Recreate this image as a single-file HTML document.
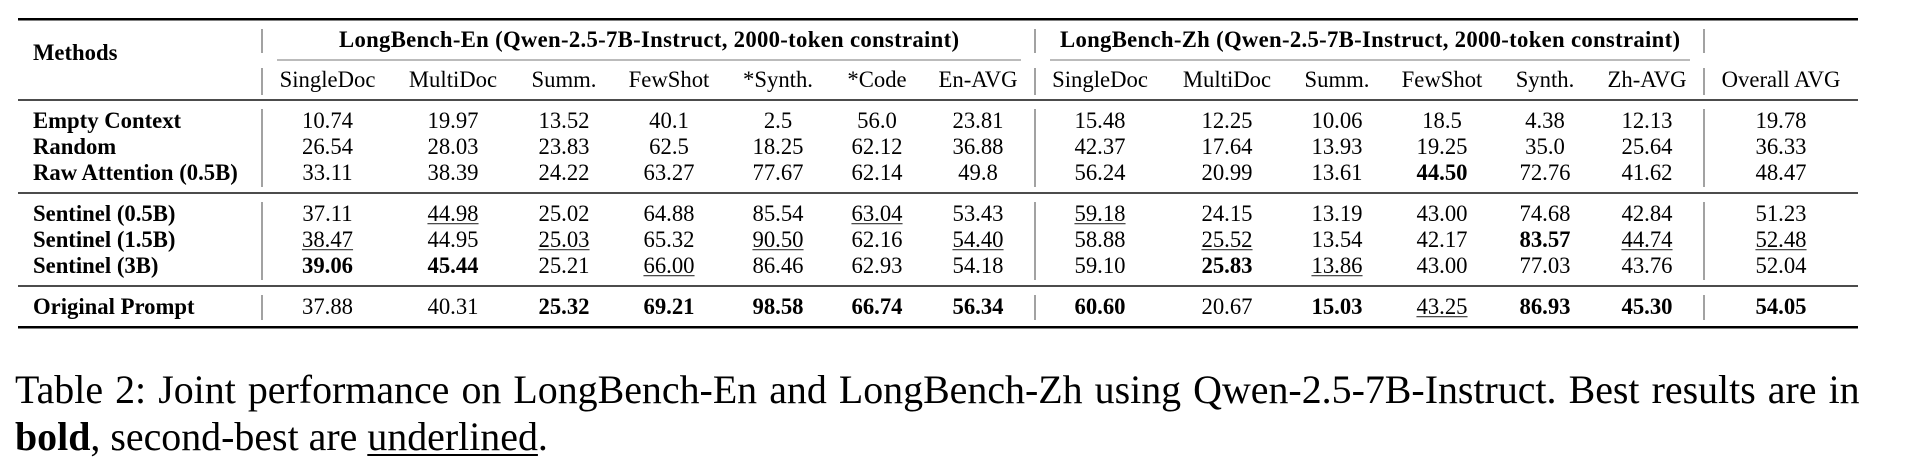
<!DOCTYPE html>
<html>
<head>
<meta charset="utf-8">
<style>
  html, body { margin:0; padding:0; background:#fff; }
  body { width:1907px; height:475px; position:relative; overflow:hidden; }
  svg { position:absolute; left:0; top:0; }
  .cap { position:absolute; left:15px; width:1880px; font-family:"Liberation Serif", "Times New Roman", serif; font-size:39.9px; line-height:47px; color:#000; white-space:nowrap; text-align:left; }
  .l1 { top:366px; word-spacing:2.1px; }
  .l2 { top:413px; }
  .u { text-decoration:underline; text-decoration-thickness:1.5px; text-underline-offset:4px; }
</style>
</head>
<body>
<svg width="1907" height="475" viewBox="0 0 1907 475" xmlns="http://www.w3.org/2000/svg" font-family="Liberation Serif, Times New Roman, serif" font-size="22.7" fill="#000">
  <!-- horizontal rules -->
  <rect x="18" y="18" width="1840" height="2.5" fill="#000"/>
  <rect x="277" y="59.5" width="744" height="1" fill="#777"/>
  <rect x="1050" y="59.5" width="640" height="1" fill="#777"/>
  <rect x="18" y="99.3" width="1840" height="1.4" fill="#000"/>
  <rect x="18" y="192.3" width="1840" height="1.4" fill="#000"/>
  <rect x="18" y="285.3" width="1840" height="1.4" fill="#000"/>
  <rect x="18" y="326" width="1840" height="2.5" fill="#000"/>

  <!-- vertical lines -->
  <g stroke="#555" stroke-width="1.1">
    <line x1="262" y1="29" x2="262" y2="53"/>
    <line x1="262" y1="68" x2="262" y2="95"/>
    <line x1="262" y1="109" x2="262" y2="187"/>
    <line x1="262" y1="202" x2="262" y2="280"/>
    <line x1="262" y1="295" x2="262" y2="320"/>
    <line x1="1035" y1="29" x2="1035" y2="53"/>
    <line x1="1035" y1="68" x2="1035" y2="95"/>
    <line x1="1035" y1="109" x2="1035" y2="187"/>
    <line x1="1035" y1="202" x2="1035" y2="280"/>
    <line x1="1035" y1="295" x2="1035" y2="320"/>
    <line x1="1704" y1="29" x2="1704" y2="53"/>
    <line x1="1704" y1="68" x2="1704" y2="95"/>
    <line x1="1704" y1="109" x2="1704" y2="187"/>
    <line x1="1704" y1="202" x2="1704" y2="280"/>
    <line x1="1704" y1="295" x2="1704" y2="320"/>
  </g>

  <!-- header -->
  <text x="33" y="60" font-weight="bold">Methods</text>
  <text x="649" y="47" font-weight="bold" text-anchor="middle" textLength="620" lengthAdjust="spacing">LongBench-En (Qwen-2.5-7B-Instruct, 2000-token constraint)</text>
  <text x="1370" y="47" font-weight="bold" text-anchor="middle" textLength="620" lengthAdjust="spacing">LongBench-Zh (Qwen-2.5-7B-Instruct, 2000-token constraint)</text>

  <g text-anchor="middle">
    <text x="327.5" y="87">SingleDoc</text>
    <text x="453" y="87">MultiDoc</text>
    <text x="564" y="87">Summ.</text>
    <text x="669" y="87">FewShot</text>
    <text x="778" y="87">*Synth.</text>
    <text x="877" y="87">*Code</text>
    <text x="978" y="87">En-AVG</text>
    <text x="1100" y="87">SingleDoc</text>
    <text x="1227" y="87">MultiDoc</text>
    <text x="1337" y="87">Summ.</text>
    <text x="1442" y="87">FewShot</text>
    <text x="1545" y="87">Synth.</text>
    <text x="1647" y="87">Zh-AVG</text>
    <text x="1781" y="87">Overall AVG</text>
  </g>

  <!-- row labels -->
  <g font-weight="bold">
    <text x="33" y="128">Empty Context</text>
    <text x="33" y="154">Random</text>
    <text x="33" y="180">Raw Attention (0.5B)</text>
    <text x="33" y="221">Sentinel (0.5B)</text>
    <text x="33" y="247">Sentinel (1.5B)</text>
    <text x="33" y="273">Sentinel (3B)</text>
    <text x="33" y="314">Original Prompt</text>
  </g>

  <g text-anchor="middle">
    <!-- Empty Context -->
    <text x="327.5" y="128">10.74</text>
    <text x="453" y="128">19.97</text>
    <text x="564" y="128">13.52</text>
    <text x="669" y="128">40.1</text>
    <text x="778" y="128">2.5</text>
    <text x="877" y="128">56.0</text>
    <text x="978" y="128">23.81</text>
    <text x="1100" y="128">15.48</text>
    <text x="1227" y="128">12.25</text>
    <text x="1337" y="128">10.06</text>
    <text x="1442" y="128">18.5</text>
    <text x="1545" y="128">4.38</text>
    <text x="1647" y="128">12.13</text>
    <text x="1781" y="128">19.78</text>

    <!-- Random -->
    <text x="327.5" y="154">26.54</text>
    <text x="453" y="154">28.03</text>
    <text x="564" y="154">23.83</text>
    <text x="669" y="154">62.5</text>
    <text x="778" y="154">18.25</text>
    <text x="877" y="154">62.12</text>
    <text x="978" y="154">36.88</text>
    <text x="1100" y="154">42.37</text>
    <text x="1227" y="154">17.64</text>
    <text x="1337" y="154">13.93</text>
    <text x="1442" y="154">19.25</text>
    <text x="1545" y="154">35.0</text>
    <text x="1647" y="154">25.64</text>
    <text x="1781" y="154">36.33</text>

    <!-- Raw Attention -->
    <text x="327.5" y="180">33.11</text>
    <text x="453" y="180">38.39</text>
    <text x="564" y="180">24.22</text>
    <text x="669" y="180">63.27</text>
    <text x="778" y="180">77.67</text>
    <text x="877" y="180">62.14</text>
    <text x="978" y="180">49.8</text>
    <text x="1100" y="180">56.24</text>
    <text x="1227" y="180">20.99</text>
    <text x="1337" y="180">13.61</text>
    <text x="1442" y="180" font-weight="bold">44.50</text>
    <text x="1545" y="180">72.76</text>
    <text x="1647" y="180">41.62</text>
    <text x="1781" y="180">48.47</text>

    <!-- Sentinel 0.5B -->
    <text x="327.5" y="221">37.11</text>
    <text x="453" y="221">44.98</text>
    <text x="564" y="221">25.02</text>
    <text x="669" y="221">64.88</text>
    <text x="778" y="221">85.54</text>
    <text x="877" y="221">63.04</text>
    <text x="978" y="221">53.43</text>
    <text x="1100" y="221">59.18</text>
    <text x="1227" y="221">24.15</text>
    <text x="1337" y="221">13.19</text>
    <text x="1442" y="221">43.00</text>
    <text x="1545" y="221">74.68</text>
    <text x="1647" y="221">42.84</text>
    <text x="1781" y="221">51.23</text>

    <!-- Sentinel 1.5B -->
    <text x="327.5" y="247">38.47</text>
    <text x="453" y="247">44.95</text>
    <text x="564" y="247">25.03</text>
    <text x="669" y="247">65.32</text>
    <text x="778" y="247">90.50</text>
    <text x="877" y="247">62.16</text>
    <text x="978" y="247">54.40</text>
    <text x="1100" y="247">58.88</text>
    <text x="1227" y="247">25.52</text>
    <text x="1337" y="247">13.54</text>
    <text x="1442" y="247">42.17</text>
    <text x="1545" y="247" font-weight="bold">83.57</text>
    <text x="1647" y="247">44.74</text>
    <text x="1781" y="247">52.48</text>

    <!-- Sentinel 3B -->
    <text x="327.5" y="273" font-weight="bold">39.06</text>
    <text x="453" y="273" font-weight="bold">45.44</text>
    <text x="564" y="273">25.21</text>
    <text x="669" y="273">66.00</text>
    <text x="778" y="273">86.46</text>
    <text x="877" y="273">62.93</text>
    <text x="978" y="273">54.18</text>
    <text x="1100" y="273">59.10</text>
    <text x="1227" y="273" font-weight="bold">25.83</text>
    <text x="1337" y="273">13.86</text>
    <text x="1442" y="273">43.00</text>
    <text x="1545" y="273">77.03</text>
    <text x="1647" y="273">43.76</text>
    <text x="1781" y="273">52.04</text>

    <!-- Original Prompt -->
    <text x="327.5" y="314">37.88</text>
    <text x="453" y="314">40.31</text>
    <text x="564" y="314" font-weight="bold">25.32</text>
    <text x="669" y="314" font-weight="bold">69.21</text>
    <text x="778" y="314" font-weight="bold">98.58</text>
    <text x="877" y="314" font-weight="bold">66.74</text>
    <text x="978" y="314" font-weight="bold">56.34</text>
    <text x="1100" y="314" font-weight="bold">60.60</text>
    <text x="1227" y="314">20.67</text>
    <text x="1337" y="314" font-weight="bold">15.03</text>
    <text x="1442" y="314">43.25</text>
    <text x="1545" y="314" font-weight="bold">86.93</text>
    <text x="1647" y="314" font-weight="bold">45.30</text>
    <text x="1781" y="314" font-weight="bold">54.05</text>
  </g>

  <!-- underlines (second-best) -->
  <g stroke="#333" stroke-width="1.1">
    <line x1="427.45" y1="223.7" x2="478.55" y2="223.7"/>
    <line x1="851.45" y1="223.7" x2="902.55" y2="223.7"/>
    <line x1="1074.45" y1="223.7" x2="1125.55" y2="223.7"/>

    <line x1="301.95" y1="249.7" x2="353.05" y2="249.7"/>
    <line x1="538.45" y1="249.7" x2="589.55" y2="249.7"/>
    <line x1="752.45" y1="249.7" x2="803.55" y2="249.7"/>
    <line x1="952.45" y1="249.7" x2="1003.55" y2="249.7"/>
    <line x1="1201.45" y1="249.7" x2="1252.55" y2="249.7"/>
    <line x1="1621.45" y1="249.7" x2="1672.55" y2="249.7"/>
    <line x1="1755.45" y1="249.7" x2="1806.55" y2="249.7"/>

    <line x1="643.45" y1="275.7" x2="694.55" y2="275.7"/>
    <line x1="1311.45" y1="275.7" x2="1362.55" y2="275.7"/>

    <line x1="1416.45" y1="316.7" x2="1467.55" y2="316.7"/>
  </g>
</svg>

<div class="cap l1">Table 2: Joint performance on LongBench-En and LongBench-Zh using Qwen-2.5-7B-Instruct. Best results are in</div>
<div class="cap l2"><b>bold</b>, second-best are <span class="u">underlined</span>.</div>
</body>
</html>
